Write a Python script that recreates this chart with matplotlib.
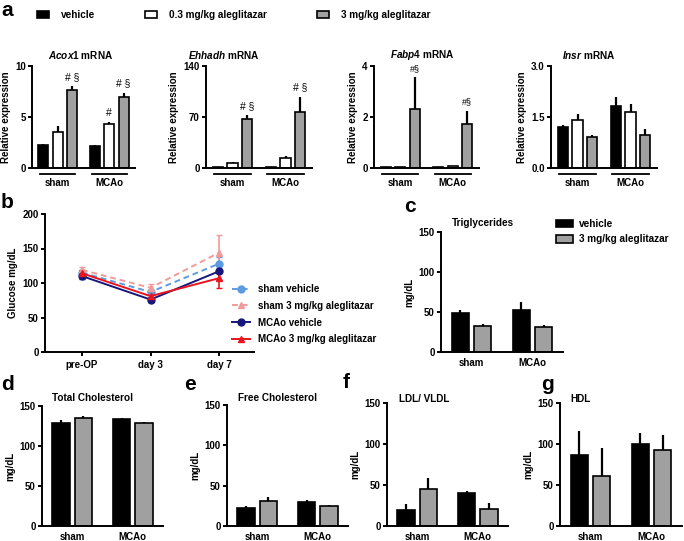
import matplotlib
matplotlib.use('Agg')
import matplotlib.pyplot as plt
from matplotlib.patches import Patch
from matplotlib.lines import Line2D
import numpy as np

plt.rcParams['font.family'] = ['Liberation Sans', 'DejaVu Sans']
plt.rcParams['font.weight'] = 'bold'
plt.rcParams['axes.labelweight'] = 'bold'
plt.rcParams['font.size'] = 7
plt.rcParams['mathtext.fontset'] = 'custom'
plt.rcParams['mathtext.it'] = 'Liberation Sans:italic:bold'
plt.rcParams['mathtext.rm'] = 'Liberation Sans:bold'

W, H = 684, 541

# ---- data ----
groups = ['sham', 'MCAo']
treat3 = ['vehicle', '0.3 mg/kg aleglitazar', '3 mg/kg aleglitazar']
treat2 = ['vehicle', '3 mg/kg aleglitazar']
GRAY = '#a0a0a0'
colors3 = ['black', 'white', GRAY]
colors2 = ['black', GRAY]

# mRNA: rows sham / MCAo, cols vehicle / 0.3 / 3 mg/kg
acox1_mean = [[2.24, 3.55, 7.66], [2.17, 4.28, 6.94]]
acox1_err = [[0.16, 0.55, 0.34], [0.13, 0.26, 0.46]]
ehhadh_mean = [[1.0, 7.4, 67.0], [1.2, 14.3, 77.0]]
ehhadh_err = [[0.3, 1.4, 6.0], [0.3, 2.3, 21.0]]
fabp4_mean = [[0.02, 0.03, 2.33], [0.03, 0.06, 1.72]]
fabp4_err = [[0.0, 0.0, 1.22], [0.0, 0.01, 0.53]]
insr_mean = [[1.20, 1.41, 0.91], [1.83, 1.66, 0.98]]
insr_err = [[0.07, 0.19, 0.06], [0.26, 0.22, 0.17]]

# significance marks: (group, treatment, text)
acox1_marks = [(0, 2, '# §'), (1, 1, '#'), (1, 2, '# §')]
ehhadh_marks = [(0, 2, '# §'), (1, 2, '# §')]
fabp4_marks = [(0, 2, '#§'), (1, 2, '#§')]

# glucose time course
days = ['pre-OP', 'day 3', 'day 7']
glc_sham_veh = [115, 87, 128]
glc_sham_veh_err = [4, 3, 9]
glc_sham_ale = [119, 93, 144]
glc_sham_ale_err = [4, 6, 26]
glc_mcao_veh = [110, 76, 117]
glc_mcao_veh_err = [4, 3, 12]
glc_mcao_ale = [114, 81, 107]
glc_mcao_ale_err = [5, 4, 14]

# plasma lipids: rows sham / MCAo, cols vehicle / 3 mg/kg
tg_mean = [[49, 33], [52, 31]]
tg_err = [[3, 2], [11, 3]]
tc_mean = [[129, 135.5], [133.5, 128.5]]
tc_err = [[4, 2.5], [1, 1]]
fc_mean = [[22.5, 31], [29.5, 25]]
fc_err = [[2, 4.5], [2.5, 0.8]]
ldl_mean = [[19, 45], [40.5, 21]]
ldl_err = [[8, 13], [2.5, 7]]
hdl_mean = [[86, 60.5], [100, 93]]
hdl_err = [[30, 35], [14, 18]]


def box(x0, y0, x1, y1):
    return [x0 / W, 1 - y1 / H, (x1 - x0) / W, (y1 - y0) / H]


def fpos(x, y):
    return x / W, 1 - y / H


def style_axes(ax):
    for s in ['top', 'right']:
        ax.spines[s].set_visible(False)
    for s in ['left', 'bottom']:
        ax.spines[s].set_linewidth(1.4)
    ax.tick_params(axis='y', length=3, width=1.4, pad=1.5, labelsize=7)


fig = plt.figure(figsize=(W / 100, H / 100), dpi=100)


def mrna_panel(rect, title_x, title, means, errs, yticks, ylabels, marks, msize=7.5):
    ax = fig.add_axes(box(*rect))
    means = np.array(means)
    errs = np.array(errs)
    off, w = 0.28, 0.19
    x0 = np.arange(len(groups))
    for j in range(3):
        ax.bar(x0 + (j - 1) * off, means[:, j], w, color=colors3[j], edgecolor='black',
               linewidth=1.2, yerr=[np.zeros(2), errs[:, j]],
               error_kw=dict(ecolor='black', elinewidth=1.6, capsize=0))
    for g, j, txt in marks:
        ax.annotate(txt, (g + (j - 1) * off, means[g, j] + errs[g, j]), xytext=(0, 3),
                    textcoords='offset points', ha='center', va='bottom',
                    fontweight='normal', fontsize=msize)
    ax.set_xlim(-0.5, 1.5)
    ax.set_ylim(yticks[0], yticks[-1])
    ax.set_yticks(yticks)
    ax.set_yticklabels(ylabels)
    ax.set_xticks([])
    style_axes(ax)
    ax.set_ylabel('Relative expression', labelpad=3)
    tr = ax.get_xaxis_transform()
    for g, name in enumerate(groups):
        ax.plot([g - 0.34, g + 0.34], [-0.06, -0.06], color='black', lw=1.3,
                transform=tr, clip_on=False)
        ax.text(g, -0.15, name, transform=tr, ha='center', va='center')
    fig.text(*fpos(title_x, 55), title, ha='left', va='center', fontsize=7.2)
    return ax


mrna_panel((32, 66, 135, 168), 48, r'$\mathit{Acox1}$ mRNA', acox1_mean, acox1_err,
           [0, 5, 10], ['0', '5', '10'], acox1_marks)
mrna_panel((206, 66, 312, 168), 188, r'$\mathit{Ehhadh}$ mRNA', ehhadh_mean, ehhadh_err,
           [0, 70, 140], ['0', '70', '140'], ehhadh_marks)
mrna_panel((374, 66, 479, 168), 390, r'$\mathit{Fabp4}$ mRNA', fabp4_mean, fabp4_err,
           [0, 2, 4], ['0', '2', '4'], fabp4_marks, msize=6.5)
mrna_panel((551, 66, 657, 168), 562, r'$\mathit{Insr}$ mRNA', insr_mean, insr_err,
           [0, 1.5, 3.0], ['0.0', '1.5', '3.0'], [])

handles3 = [Patch(facecolor=c, edgecolor='black', linewidth=1.2, label=l)
            for c, l in zip(colors3, treat3)]
fig.legend(handles=handles3, loc='upper left', bbox_to_anchor=fpos(37, 10), ncol=3,
           frameon=False, fontsize=7.2, handlelength=1.2, handleheight=0.7,
           handletextpad=1.2, columnspacing=5.0, borderpad=0, borderaxespad=0)

# ---- panel b ----
axb = fig.add_axes(box(45, 214, 254, 352))
xd = np.arange(len(days))
series_b = [
    (glc_sham_veh, glc_sham_veh_err, '#5b9be0', '--', 'o', 'sham vehicle'),
    (glc_sham_ale, glc_sham_ale_err, '#f39a9a', '--', '^', 'sham 3 mg/kg aleglitazar'),
    (glc_mcao_veh, glc_mcao_veh_err, '#17177a', '-', 'o', 'MCAo vehicle'),
    (glc_mcao_ale, glc_mcao_ale_err, '#e8141e', '-', '^', 'MCAo 3 mg/kg aleglitazar'),
]
hb = []
for vals, err, col, ls, mk, lab in series_b:
    axb.errorbar(xd, vals, yerr=err, color=col, ls=ls, lw=1.4, marker=mk, ms=5,
                 capsize=2.5, elinewidth=1.2, dashes=(3, 2) if ls == '--' else (None, None))
    hb.append(Line2D([], [], color=col, ls=ls, lw=1.4, marker=mk, ms=5, label=lab,
                     dashes=(3, 2) if ls == '--' else (None, None)))
axb.set_xlim(-0.54, 2.51)
axb.set_ylim(0, 200)
axb.set_yticks([0, 50, 100, 150, 200])
axb.set_xticks(xd)
axb.set_xticklabels(days)
style_axes(axb)
axb.tick_params(axis='x', length=3, width=1.4, pad=3, labelsize=7)
axb.set_ylabel('Glucose mg/dL', labelpad=3)
fig.legend(handles=hb, loc='upper left', bbox_to_anchor=fpos(232, 284), frameon=False,
           fontsize=7, handlelength=1.9, handletextpad=0.8, labelspacing=0.7,
           borderpad=0, borderaxespad=0)


# ---- lipid panels ----
def lipid_panel(rect, title_x, title_y, title, means, errs):
    ax = fig.add_axes(box(*rect))
    means = np.array(means)
    errs = np.array(errs)
    off, w = 0.184, 0.287
    x0 = np.arange(len(groups))
    for j in range(2):
        ax.bar(x0 + (j - 0.5) * 2 * off, means[:, j], w, color=colors2[j], edgecolor='black',
               linewidth=1.2, yerr=[np.zeros(2), errs[:, j]],
               error_kw=dict(ecolor='black', elinewidth=1.6, capsize=0))
    ax.set_xlim(-0.5, 1.5)
    ax.set_ylim(0, 150)
    ax.set_yticks([0, 50, 100, 150])
    ax.set_xticks(x0)
    ax.set_xticklabels(groups)
    style_axes(ax)
    ax.tick_params(axis='x', length=0, pad=4.5, labelsize=7)
    ax.set_ylabel('mg/dL', labelpad=3)
    fig.text(*fpos(title_x, title_y), title, ha='left', va='center', fontsize=7.2)
    return ax


lipid_panel((441, 232, 563, 352), 452, 223, 'Triglycerides', tg_mean, tg_err)
lipid_panel((42, 406, 163, 526), 52, 398, 'Total Cholesterol', tc_mean, tc_err)
lipid_panel((227, 405, 348, 526), 238, 398, 'Free Cholesterol', fc_mean, fc_err)
lipid_panel((387, 403, 508, 526), 399, 399, 'LDL/ VLDL', ldl_mean, ldl_err)
lipid_panel((560, 403, 682, 526), 570, 399, 'HDL', hdl_mean, hdl_err)

handles2 = [Patch(facecolor=c, edgecolor='black', linewidth=1.2, label=l)
            for c, l in zip(colors2, treat2)]
fig.legend(handles=handles2, loc='upper left', bbox_to_anchor=fpos(556, 219), frameon=False,
           fontsize=7.2, handlelength=1.7, handleheight=0.8, handletextpad=0.6,
           labelspacing=0.55, borderpad=0, borderaxespad=0)

# panel letters
fig.text(*fpos(1, 1), 'a', fontsize=15, fontweight='bold', ha='left', va='top')
for letter, (px, py) in zip('bcdefg', [(1, 203), (404, 207), (1, 385),
                                       (184, 385), (343, 383), (541, 385)]):
    fig.text(*fpos(px, py), letter, fontsize=15, fontweight='bold', ha='left', va='center')

fig.savefig('out.png', dpi=100)
